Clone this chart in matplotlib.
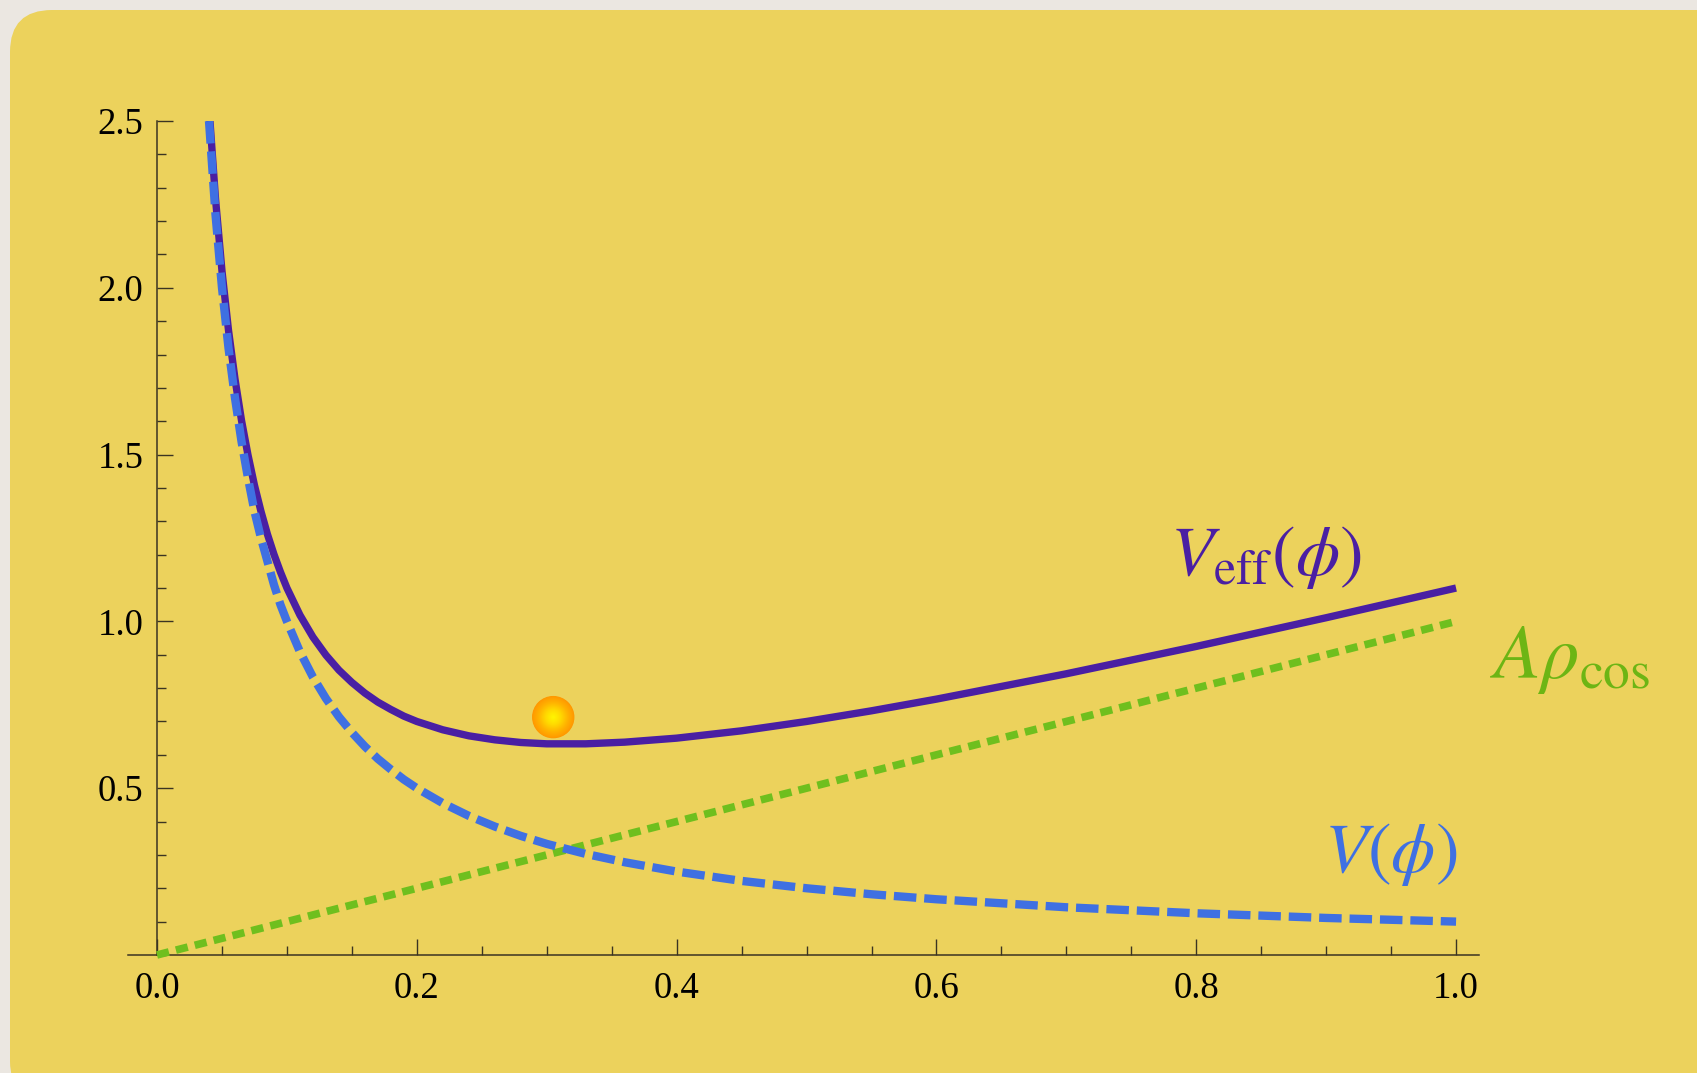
import numpy as np
import matplotlib
matplotlib.use("Agg")
import matplotlib.pyplot as plt
import matplotlib.patches as mpatches
from matplotlib.ticker import MultipleLocator
from matplotlib.colors import LinearSegmentedColormap

plt.rcParams['mathtext.fontset'] = 'stix'
plt.rcParams['font.family'] = ['Liberation Serif', 'DejaVu Serif']

# field values shared by both potential curves
phi = [0.040, 0.045, 0.050, 0.055, 0.060, 0.065, 0.070, 0.075, 0.080, 0.085,
       0.090, 0.095, 0.100, 0.110, 0.120, 0.130, 0.140, 0.150, 0.160, 0.170,
       0.180, 0.190, 0.200, 0.220, 0.240, 0.260, 0.280, 0.300, 0.330, 0.360,
       0.400, 0.450, 0.500, 0.550, 0.600, 0.700, 0.800, 0.900, 1.000]

# bare potential V(phi)
v_phi = [2.50, 2.22, 2.00, 1.82, 1.67, 1.54, 1.43, 1.33, 1.25, 1.18,
         1.11, 1.05, 1.00, 0.909, 0.833, 0.769, 0.714, 0.667, 0.625, 0.588,
         0.556, 0.526, 0.500, 0.455, 0.417, 0.385, 0.357, 0.333, 0.303, 0.278,
         0.250, 0.222, 0.200, 0.182, 0.167, 0.143, 0.125, 0.111, 0.100]

# effective potential V_eff(phi)
v_eff = [2.54, 2.267, 2.05, 1.873, 1.727, 1.603, 1.499, 1.408, 1.33, 1.261,
         1.201, 1.148, 1.10, 1.019, 0.953, 0.899, 0.854, 0.817, 0.785, 0.758,
         0.736, 0.716, 0.700, 0.675, 0.657, 0.645, 0.637, 0.633, 0.633, 0.638,
         0.650, 0.672, 0.700, 0.732, 0.767, 0.843, 0.925, 1.011, 1.100]

# matter coupling term A*rho_cos
phi_rho = [0.0, 1.0]
a_rho = [0.0, 1.0]

# the field sitting near the minimum
ball_phi = 0.305
ball_v = 0.713

fig = plt.figure(figsize=(16.97, 10.73), dpi=100)
fig.patch.set_facecolor('#ebe7e1')
panel = mpatches.FancyBboxPatch((10, -30), 1730, 1093,
                                boxstyle='round,pad=0,rounding_size=42',
                                transform=None, facecolor='#ecd25c',
                                edgecolor='none', zorder=0)
fig.add_artist(panel)

ax = fig.add_axes([0.0757, 0.1100, 0.7961, 0.7772])
ax.set_facecolor('none')
ax.set_xlim(-0.022, 1.018)
ax.set_ylim(0, 2.5)

axis_col = '#3b3422'
for side in ['top', 'right']:
    ax.spines[side].set_visible(False)
ax.spines['left'].set_position(('data', 0))
ax.spines['bottom'].set_position(('data', 0))
for side in ['left', 'bottom']:
    ax.spines[side].set_color(axis_col)
    ax.spines[side].set_linewidth(1.1)

ax.xaxis.set_minor_locator(MultipleLocator(0.05))
ax.yaxis.set_minor_locator(MultipleLocator(0.1))
ax.set_xticks([0.0, 0.2, 0.4, 0.6, 0.8, 1.0])
ax.set_xticklabels(['0.0', '0.2', '0.4', '0.6', '0.8', '1.0'])
ax.set_yticks([0.5, 1.0, 1.5, 2.0, 2.5])
ax.set_yticklabels(['0.5', '1.0', '1.5', '2.0', '2.5'])
ax.tick_params(which='major', direction='in', length=11.5, width=1.0,
               color=axis_col, labelsize=26.5, labelcolor='black')
ax.tick_params(which='minor', direction='in', length=6.5, width=1.0,
               color=axis_col)
ax.tick_params(axis='x', which='major', pad=12)
ax.tick_params(axis='y', which='major', pad=10)

green = '#6fbf1e'
purple = '#4a1fa3'
blue = '#3f70e2'

ax.plot(phi_rho, a_rho, color=green, lw=5.5, dashes=(1.6, 0.95),
        solid_capstyle='butt', dash_capstyle='butt', zorder=3, clip_on=False)
ax.plot(phi, v_eff, color=purple, lw=5.3, solid_capstyle='butt',
        solid_joinstyle='round', zorder=4)
ax.plot(phi, v_phi, color=blue, lw=6.0, dashes=(2.7, 0.95),
        dash_capstyle='butt', zorder=5)

# shaded ball: stacked discs from orange rim to yellow core
ball_cmap = LinearSegmentedColormap.from_list('ball', ['#ff9800', '#ffb400', '#ffd900', '#fff200'])
sizes = np.linspace(30.5, 2.0, 40)
for i, d in enumerate(sizes):
    ax.scatter([ball_phi], [ball_v], s=d ** 2, color=ball_cmap(i / (len(sizes) - 1)),
               edgecolors='none', zorder=6 + i * 0.01)

ax.text(0.780, 1.139, r'$V_{\rm eff}(\phi)$', color=purple, fontsize=51,
        ha='left', va='baseline')
ax.text(1.026, 0.830, r'$A\rho_{\rm cos}$', color='#6db514', fontsize=55,
        ha='left', va='baseline', clip_on=False)
ax.text(0.898, 0.249, r'$V(\phi)$', color=blue, fontsize=51,
        ha='left', va='baseline')

fig.savefig('out.png', dpi=100, facecolor=fig.get_facecolor())
